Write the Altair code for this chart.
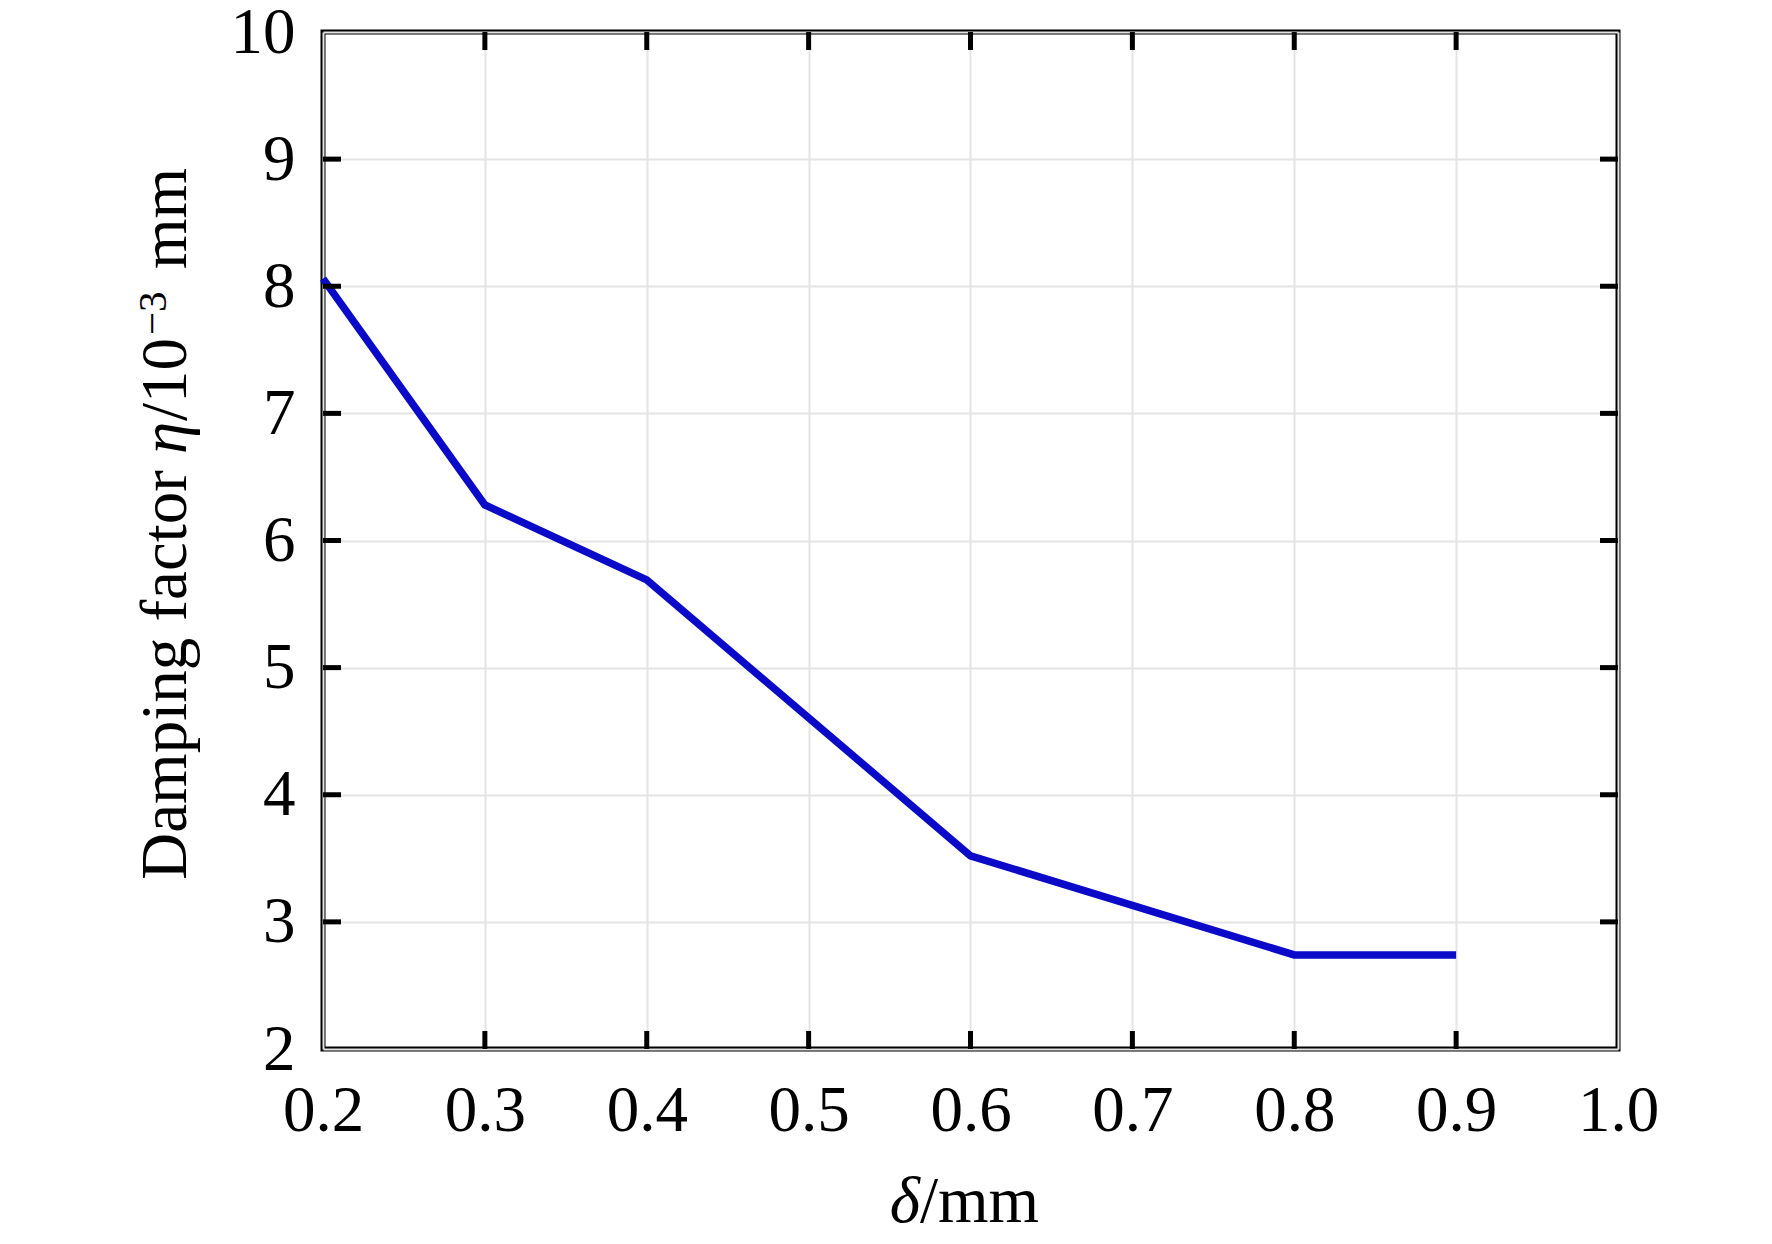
import altair as alt
import pandas as pd

# data
delta_mm = [0.2, 0.3, 0.4, 0.6, 0.8, 0.9]
damping = [8.06, 6.28, 5.69, 3.52, 2.74, 2.74]

x_tick_values = [0.2, 0.3, 0.4, 0.5, 0.6, 0.7, 0.8, 0.9, 1.0]
y_tick_values = [2, 3, 4, 5, 6, 7, 8, 9, 10]
x_inner_ticks = [0.3, 0.4, 0.5, 0.6, 0.7, 0.8, 0.9]
y_inner_ticks = [3, 4, 5, 6, 7, 8, 9]

TOP = 32          # page y of the plot's top edge
LEFT = 323        # page x of the plot's left edge
W, H = 1295, 1017
TL = 18
FONT = "Liberation Serif"
TFS = 65
LFS = 65

line_df = pd.DataFrame({"delta": delta_mm, "eta": damping})
xt_df = pd.DataFrame({"delta": x_inner_ticks})
yt_df = pd.DataFrame({"eta": y_inner_ticks})
one = pd.DataFrame({"k": [0]})

xscale = alt.Scale(domain=[0.2, 1.0], nice=False, zero=False)
yscale = alt.Scale(domain=[2, 10], nice=False, zero=False)

xaxis = alt.Axis(values=x_tick_values, format=".1f", title=None, labelFlush=False)
yaxis = alt.Axis(values=y_tick_values, format="d", title=None, labelFlush=False)

X = alt.X("delta:Q", scale=xscale, axis=xaxis)
Y = alt.Y("eta:Q", scale=yscale, axis=yaxis)

line = alt.Chart(line_df).mark_line(color="#0a0ac8", strokeWidth=7.5).encode(x=X, y=Y)

bottom_ticks = alt.Chart(xt_df).mark_rule(color="black", strokeWidth=5).encode(
    x=X, y=alt.value(H), y2=alt.value(H - TL))
top_ticks = alt.Chart(xt_df).mark_rule(color="black", strokeWidth=5).encode(
    x=X, y=alt.value(0), y2=alt.value(TL))
left_ticks = alt.Chart(yt_df).mark_rule(color="black", strokeWidth=5).encode(
    y=Y, x=alt.value(0), x2=alt.value(TL))
right_ticks = alt.Chart(yt_df).mark_rule(color="black", strokeWidth=5).encode(
    y=Y, x=alt.value(W), x2=alt.value(W - TL))


def piece(text, px, py, align, italic=False, angle=0, size=TFS):
    kw = dict(text=text, font=FONT, fontSize=size, color="black",
              align=align, baseline="alphabetic")
    if italic:
        kw["fontStyle"] = "italic"
    if angle:
        kw["angle"] = angle
    return alt.Chart(one).mark_text(**kw).encode(
        x=alt.value(px - LEFT), y=alt.value(py - TOP))


# x-axis title: "δ/mm" with italic δ
xt1 = piece("δ", 920, 1222, "right", italic=True)
xt2 = piece("/mm", 920, 1222, "left")

# y-axis title: "Damping factor η/10⁻³ mm" with italic η and a raised −3
YB = 186
yt1 = piece("Damping factor", YB, 470, "right", angle=270)
yt2 = piece("η", YB, 454, "left", italic=True, angle=270)
yt3 = piece("/10", YB, 421, "left", angle=270)
yt4 = piece("−3", YB - 20, 335, "left", angle=270, size=41)
yt5 = piece("mm", YB, 269, "left", angle=270)

chart = alt.layer(line, bottom_ticks, top_ticks, left_ticks, right_ticks,
                  xt1, xt2, yt1, yt2, yt3, yt4, yt5).properties(
    width=W, height=H,
    autosize=alt.AutoSizeParams(type="none"),
    padding={"left": LEFT - 8, "top": TOP - 8, "right": 146, "bottom": 1236 - TOP - H},
).configure_view(
    stroke="black", strokeWidth=5
).configure_axis(
    domain=False, ticks=False, grid=True, gridColor="#e4e4e4", gridWidth=2,
    labelFont=FONT, labelFontSize=LFS, labelColor="black",
).configure_axisX(labelPadding=30).configure_axisY(labelPadding=28)

chart.save("out.html", embed_options={"renderer": "svg", "actions": False})
